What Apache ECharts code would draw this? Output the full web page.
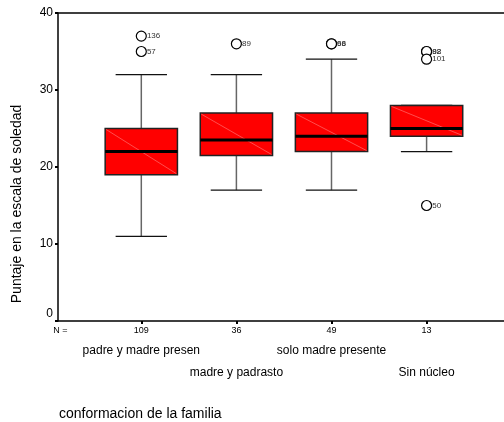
<!DOCTYPE html>
<html>
<head>
<meta charset="utf-8">
<script src="https://cdn.jsdelivr.net/npm/echarts@6/dist/echarts.min.js"></script>
<style>
  html, body { margin: 0; padding: 0; background: #fff; }
  #chart { width: 504px; height: 422px; }
</style>
</head>
<body>
<div id="chart"></div>
<script>
// conformacion de la familia -> Puntaje en la escala de soledad
var categories = ['padre y madre presen', 'madre y padrasto', 'solo madre presente', 'Sin núcleo'];
var counts = [109, 36, 49, 13];
var lowWhisker = [11, 17, 17, 22];
var q1 = [19, 21.5, 22, 24];
var median = [22, 23.5, 24, 25];
var q3 = [25, 27, 27, 28];
var highWhisker = [32, 32, 34, 28];
// [group (1-based), value, case label]
var outliers = [
  [1, 37, '136'], [1, 35, '57'],
  [2, 36, '89'],
  [3, 36, '98'], [3, 36, '66'],
  [4, 35, '88'], [4, 35, '92'], [4, 34, '101'], [4, 15, '50']
];
var yTicks = [0, 10, 20, 30, 40];

var font = 'Liberation Sans, Arial, sans-serif';
var xMin = 0.124, xMax = 4.814;

var boxData = categories.map(function (c, i) {
  return [i + 1, lowWhisker[i], q1[i], median[i], q3[i], highWhisker[i]];
});

function renderBox(params, api) {
  var x = api.value(0);
  var pLow = api.coord([x, api.value(1)]);
  var pQ1 = api.coord([x, api.value(2)]);
  var pMed = api.coord([x, api.value(3)]);
  var pQ3 = api.coord([x, api.value(4)]);
  var pHigh = api.coord([x, api.value(5)]);
  var boxW = api.size([0.76, 0])[0];
  var capW = api.size([0.54, 0])[0];
  var cx = pMed[0];
  var x0 = cx - boxW / 2, x1 = cx + boxW / 2;
  return {
    type: 'group',
    children: [
      { type: 'line', shape: { x1: cx, y1: pHigh[1], x2: cx, y2: pLow[1] },
        style: { stroke: '#666', lineWidth: 1.5 } },
      { type: 'line', shape: { x1: cx - capW / 2, y1: pHigh[1], x2: cx + capW / 2, y2: pHigh[1] },
        style: { stroke: '#111', lineWidth: 1.2 } },
      { type: 'line', shape: { x1: cx - capW / 2, y1: pLow[1], x2: cx + capW / 2, y2: pLow[1] },
        style: { stroke: '#111', lineWidth: 1.2 } },
      { type: 'rect', shape: { x: x0, y: pQ3[1], width: boxW, height: pQ1[1] - pQ3[1] },
        style: { fill: '#ff0000', stroke: '#222', lineWidth: 1.5 } },
      { type: 'line', shape: { x1: x0 + 1, y1: pQ3[1] + 1, x2: x1 - 1, y2: pQ1[1] - 1 },
        style: { stroke: '#ff9a9a', lineWidth: 0.5 } },
      { type: 'line', shape: { x1: x0, y1: pMed[1], x2: x1, y2: pMed[1] },
        style: { stroke: '#000', lineWidth: 3 } }
    ]
  };
}

var chart = echarts.init(document.getElementById('chart'));
var option = {
  backgroundColor: '#fff',
  animation: false,
  textStyle: { fontFamily: font },
  title: {
    text: 'conformacion de la familia',
    left: 54, top: 402,
    textStyle: { fontSize: 14, fontWeight: 'normal', color: '#000', fontFamily: font }
  },
  graphic: [{
    type: 'text',
    x: 17, y: 204,
    rotation: Math.PI / 2,
    style: {
      text: 'Puntaje en la escala de soledad',
      font: '14px ' + font,
      fill: '#000',
      align: 'center',
      verticalAlign: 'middle'
    }
  }],
  grid: { left: 58, top: 13, width: 446, height: 308 },
  xAxis: [{
    type: 'value', min: xMin, max: xMax, position: 'bottom',
    axisLine: { show: true, lineStyle: { color: '#000', width: 1.5 } },
    axisTick: { show: true, customValues: [1, 2, 3, 4], length: 3, lineStyle: { color: '#000', width: 2 } },
    axisLabel: {
      customValues: [0.15, 1, 2, 3, 4], margin: 5, fontSize: 9, color: '#000',
      formatter: function (v) { return v < 0.5 ? 'N =' : String(counts[Math.round(v) - 1]); }
    },
    splitLine: { show: false }
  }, {
    type: 'value', min: xMin, max: xMax, position: 'bottom',
    axisLine: { show: false }, axisTick: { show: false }, splitLine: { show: false },
    axisLabel: {
      customValues: [1, 3], margin: 24, fontSize: 12, color: '#000',
      formatter: function (v) { return categories[Math.round(v) - 1]; }
    }
  }, {
    type: 'value', min: xMin, max: xMax, position: 'bottom',
    axisLine: { show: false }, axisTick: { show: false }, splitLine: { show: false },
    axisLabel: {
      customValues: [2, 4], margin: 46, fontSize: 12, color: '#000',
      formatter: function (v) { return categories[Math.round(v) - 1]; }
    }
  }, {
    type: 'value', min: xMin, max: xMax, position: 'top',
    axisLine: { show: true, lineStyle: { color: '#000', width: 1.5 } },
    axisTick: { show: false }, axisLabel: { show: false }, splitLine: { show: false }
  }],
  yAxis: {
    type: 'value', min: 0, max: 40, interval: 10,
    axisLine: { show: true, lineStyle: { color: '#000', width: 1.5 } },
    axisTick: { show: true, length: 3, lineStyle: { color: '#000', width: 2 } },
    axisLabel: {
      customValues: yTicks, margin: 5, fontSize: 12, color: '#000',
      formatter: function (v) { return v === 0 ? '{z|0}' : String(v); },
      rich: { z: { fontSize: 12, color: '#000', padding: [0, 0, 14, 0] } }
    },
    splitLine: { show: false }
  },
  series: [{
    type: 'custom',
    xAxisIndex: 0, yAxisIndex: 0,
    renderItem: renderBox,
    encode: { x: 0, y: [1, 2, 3, 4, 5] },
    data: boxData,
    clip: false,
    z: 2
  }, {
    type: 'scatter',
    xAxisIndex: 0, yAxisIndex: 0,
    data: outliers,
    symbol: 'circle',
    symbolSize: 10,
    itemStyle: { color: '#fff', borderColor: '#000', borderWidth: 1.2, opacity: 1 },
    label: {
      show: true, position: 'right', distance: 0, fontSize: 8, color: '#333',
      formatter: function (p) { return p.value[2]; }
    },
    z: 3
  }]
};
chart.setOption(option);
</script>
</body>
</html>
